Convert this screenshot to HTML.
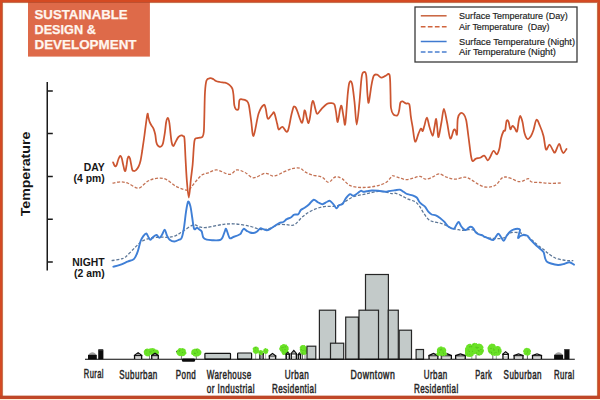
<!DOCTYPE html>
<html><head><meta charset="utf-8"><style>
html,body{margin:0;padding:0;background:#fff;}
svg{display:block;}
.lab{font-family:"Liberation Sans",sans-serif;font-size:12.2px;letter-spacing:0.7px;fill:#262626;stroke:#262626;stroke-width:0.5px;}
.leg{font-family:"Liberation Sans",sans-serif;font-size:9.4px;fill:#1e1e1e;stroke:#1e1e1e;stroke-width:0.18px;}
.bold{font-family:"Liberation Sans",sans-serif;font-weight:bold;fill:#161616;}
.badge{font-family:"Liberation Sans",sans-serif;font-weight:bold;font-size:13.3px;fill:#fff6ef;stroke:#fff6ef;stroke-width:0.25px;}
</style></head><body>
<svg width="600" height="400" viewBox="0 0 600 400">
<rect width="600" height="400" fill="#fff"/>
<!-- badge -->
<rect x="28" y="0" width="121.9" height="56.6" fill="#de6a49"/>
<text class="badge" x="34.5" y="18.7" textLength="93.2" lengthAdjust="spacingAndGlyphs">SUSTAINABLE</text>
<text class="badge" x="34.5" y="33.7" textLength="61.3" lengthAdjust="spacingAndGlyphs">DESIGN &amp;</text>
<text class="badge" x="34.5" y="48.8" textLength="102" lengthAdjust="spacingAndGlyphs">DEVELOPMENT</text>
<!-- legend -->
<rect x="415" y="7" width="162" height="55" fill="#fff" stroke="#3a3a3a" stroke-width="1.3"/>
<line x1="420.8" y1="15.8" x2="446.6" y2="15.8" stroke="#c9613c" stroke-width="1.5"/>
<line x1="420.8" y1="26.8" x2="446.6" y2="26.8" stroke="#d0643d" stroke-width="1.4" stroke-dasharray="4.7 2.33"/>
<line x1="420.8" y1="41.5" x2="446.6" y2="41.5" stroke="#3f7ad0" stroke-width="1.5"/>
<line x1="420.8" y1="52" x2="446.6" y2="52" stroke="#4a7fd0" stroke-width="1.4" stroke-dasharray="4.7 2.33"/>
<text class="leg" x="459.1" y="19.1" textLength="108.6" lengthAdjust="spacingAndGlyphs">Surface Temperature (Day)</text>
<text class="leg" x="459.1" y="29.7" textLength="90.5" lengthAdjust="spacingAndGlyphs">Air Temperature&#160; (Day)</text>
<text class="leg" x="459.1" y="44.5" textLength="115.9" lengthAdjust="spacingAndGlyphs">Surface Temperature (Night)</text>
<text class="leg" x="459.1" y="55" textLength="96.9" lengthAdjust="spacingAndGlyphs">Air Temperature (Night)</text>
<!-- axis -->
<path d="M47.25,82 V270.6 M47.25,91 H52.8 M47.25,133.6 H52.8 M47.25,176.5 H52.8 M47.25,219.3 H52.8 M47.25,262 H52.8" stroke="#1a1a1a" stroke-width="1.5" fill="none"/>
<text class="bold" font-size="13.7" transform="translate(29.9,216.3) rotate(-90)" x="0" y="0" textLength="84.6" lengthAdjust="spacingAndGlyphs">Temperature</text>
<text class="bold" font-size="10.4" x="104.7" y="170.7" text-anchor="end">DAY</text>
<text class="bold" font-size="10.4" x="104.7" y="181.8" text-anchor="end">(4 pm)</text>
<text class="bold" font-size="10.4" x="104.7" y="266" text-anchor="end">NIGHT</text>
<text class="bold" font-size="10.4" x="104.7" y="277.2" text-anchor="end">(2 am)</text>
<!-- lines -->
<path d="M112.5,183.2 C113.9,183.0 118.2,181.8 120.9,181.8 C123.6,181.9 125.6,182.4 128.5,183.5 C131.4,184.6 135.4,188.5 138.5,188.2 C141.6,187.9 144.5,183.3 146.9,181.8 C149.3,180.3 150.8,179.6 153.0,179.0 C155.2,178.4 158.0,178.0 160.3,178.1 C162.6,178.2 164.5,178.5 167.0,179.8 C169.5,181.1 172.6,184.4 175.4,186.0 C178.2,187.6 181.5,188.7 183.7,189.4 C185.9,190.1 187.1,190.6 188.5,190.0 C189.9,189.4 190.7,187.7 192.1,186.0 C193.5,184.3 195.3,181.9 197.0,180.0 C198.7,178.1 200.3,176.0 202.2,174.8 C204.1,173.6 206.0,173.6 208.4,172.8 C210.8,172.0 213.3,169.6 216.8,169.9 C220.3,170.2 226.0,174.4 229.3,174.4 C232.7,174.4 234.3,170.2 236.9,169.9 C239.5,169.6 242.2,171.2 245.0,172.5 C247.8,173.8 250.2,177.7 253.6,177.8 C257.0,177.9 261.9,173.6 265.3,173.3 C268.7,173.0 270.6,176.3 273.7,176.1 C276.8,175.9 280.7,173.2 283.8,171.9 C286.9,170.7 289.4,169.2 292.1,168.6 C294.8,168.0 297.9,167.6 300.0,168.2 C302.1,168.8 303.0,170.8 305.0,171.9 C307.0,173.0 309.0,174.1 311.8,174.9 C314.6,175.8 319.0,175.8 321.8,177.0 C324.6,178.2 326.3,182.3 328.5,182.3 C330.7,182.3 333.0,177.6 335.2,177.0 C337.4,176.4 339.4,177.2 341.9,178.6 C344.4,180.0 346.9,184.2 350.3,185.7 C353.7,187.2 357.8,187.4 362.0,187.5 C366.2,187.6 371.5,187.0 375.4,186.2 C379.3,185.4 382.9,184.3 385.5,182.8 C388.1,181.3 390.0,178.2 391.3,177.0 C392.6,175.8 391.9,175.6 393.3,175.8 C394.8,176.0 397.8,177.3 400.0,178.0 C402.2,178.7 404.5,179.7 406.7,179.7 C408.9,179.7 411.1,178.6 413.3,178.0 C415.5,177.4 417.9,176.1 420.0,176.3 C422.1,176.5 423.6,179.1 425.8,179.2 C428.0,179.3 431.1,177.6 433.3,176.7 C435.5,175.8 437.0,173.7 439.2,173.8 C441.4,173.9 444.1,176.3 446.7,177.2 C449.3,178.1 451.9,179.2 455.0,179.2 C458.1,179.2 462.2,177.1 465.0,177.2 C467.8,177.3 469.5,178.8 471.7,180.0 C473.9,181.2 476.1,183.0 478.3,184.2 C480.5,185.4 482.8,186.6 485.0,187.0 C487.2,187.4 489.8,187.2 491.7,186.7 C493.6,186.2 495.0,185.6 496.7,184.2 C498.4,182.8 500.2,179.5 501.7,178.3 C503.2,177.1 504.1,176.9 505.8,177.0 C507.5,177.1 509.5,177.9 511.7,178.7 C513.9,179.5 517.0,181.5 519.2,181.7 C521.4,181.9 523.5,180.5 525.0,180.0 C526.5,179.5 527.2,178.4 528.3,178.7 C529.4,179.0 529.8,181.4 531.7,182.0 C533.7,182.6 537.0,182.3 540.0,182.5 C543.0,182.7 546.5,183.2 550.0,183.3 C553.5,183.4 559.0,183.1 560.8,183.0" fill="none" stroke="#c47254" stroke-width="1.3" stroke-dasharray="3 1.7"/>
<path d="M111.6,260.7 C113.0,260.4 117.7,259.8 120.0,259.2 C122.3,258.6 123.1,258.8 125.6,256.9 C128.1,254.9 132.2,250.2 135.0,247.5 C137.8,244.8 139.7,242.6 142.5,241.0 C145.3,239.4 148.8,238.4 151.9,237.8 C155.0,237.2 158.5,237.3 161.3,237.2 C164.1,237.1 166.3,237.5 168.8,237.2 C171.3,236.9 173.8,236.4 176.3,235.3 C178.8,234.2 181.0,232.3 183.8,230.6 C186.6,228.9 190.5,225.6 193.2,225.0 C195.9,224.4 197.8,226.6 200.0,227.0 C202.2,227.4 203.9,227.8 206.7,227.5 C209.5,227.2 213.6,226.1 216.7,225.5 C219.8,224.9 222.2,224.5 225.0,224.2 C227.8,223.9 230.5,223.7 233.3,223.8 C236.1,223.9 238.9,224.3 241.7,224.7 C244.5,225.1 247.5,225.7 250.0,226.3 C252.5,226.9 254.5,227.7 256.7,228.3 C258.9,228.9 261.1,229.7 263.3,229.7 C265.5,229.7 267.5,229.1 270.0,228.3 C272.5,227.5 275.5,225.3 278.3,224.7 C281.1,224.1 284.5,224.6 286.7,224.7 C288.9,224.8 290.2,225.4 291.7,225.3 C293.2,225.2 293.8,225.3 295.5,224.0 C297.2,222.7 299.6,219.4 301.7,217.5 C303.8,215.6 306.1,213.9 308.3,212.5 C310.5,211.1 312.8,210.1 315.0,209.2 C317.2,208.3 319.5,207.5 321.7,207.0 C323.9,206.5 326.1,206.4 328.3,206.3 C330.5,206.2 333.1,206.5 335.0,206.3 C336.9,206.1 338.3,205.8 340.0,205.0 C341.7,204.2 343.1,202.9 345.0,201.7 C346.9,200.4 349.5,198.6 351.7,197.5 C353.9,196.4 356.1,195.9 358.3,195.3 C360.5,194.8 362.8,194.7 365.0,194.2 C367.2,193.7 369.5,193.0 371.7,192.5 C373.9,192.0 376.4,191.4 378.3,191.3 C380.2,191.2 381.6,191.5 383.3,191.7 C385.0,191.9 386.9,192.2 388.3,192.5 C389.7,192.8 390.4,193.6 391.7,193.7 C392.9,193.8 394.1,193.0 395.8,193.3 C397.5,193.7 399.6,194.8 401.7,195.8 C403.8,196.8 406.1,198.2 408.3,199.2 C410.5,200.2 413.2,200.6 415.0,201.7 C416.8,202.8 417.8,204.0 419.2,205.8 C420.6,207.6 421.8,210.3 423.3,212.5 C424.8,214.7 426.6,217.7 428.3,219.2 C430.0,220.7 431.4,221.1 433.3,221.7 C435.2,222.3 438.1,222.4 440.0,223.0 C441.9,223.6 443.1,224.2 445.0,225.0 C446.9,225.8 449.5,227.2 451.7,228.0 C453.9,228.8 456.4,229.3 458.3,229.7 C460.2,230.1 461.6,230.3 463.3,230.3 C465.0,230.3 466.6,229.8 468.3,229.7 C470.0,229.6 471.9,229.5 473.3,230.0 C474.7,230.5 475.4,231.7 476.7,232.5 C477.9,233.3 479.1,234.2 480.8,235.0 C482.5,235.8 484.3,236.9 486.7,237.5 C489.1,238.1 492.2,238.4 495.0,238.5 C497.8,238.6 500.8,238.9 503.3,238.0 C505.8,237.1 507.8,233.9 510.0,233.0 C512.2,232.1 514.8,232.4 516.7,232.5 C518.7,232.6 519.5,232.3 521.7,233.3 C523.9,234.3 527.5,236.5 530.0,238.3 C532.5,240.1 534.5,242.4 536.7,244.2 C538.9,246.0 541.4,247.7 543.3,249.2 C545.2,250.7 546.0,251.8 548.0,253.3 C550.0,254.8 552.8,256.9 555.3,258.0 C557.8,259.1 561.0,259.6 563.3,260.0 C565.6,260.4 567.6,260.6 569.3,260.7 C571.0,260.8 572.6,260.7 573.3,260.7" fill="none" stroke="#5d7797" stroke-width="1.3" stroke-dasharray="3 1.7"/>
<path d="M113.1,162.3 C113.3,162.8 114.1,164.8 114.5,165.5 C114.9,166.2 115.2,166.6 115.6,166.4 C116.0,166.2 116.3,165.8 116.8,164.6 C117.3,163.4 117.9,160.4 118.5,159.0 C119.1,157.6 119.7,156.1 120.2,155.9 C120.7,155.7 121.2,156.7 121.7,158.0 C122.2,159.3 122.5,162.0 123.0,164.0 C123.5,166.0 124.0,168.9 124.4,170.0 C124.8,171.1 125.1,171.4 125.5,170.6 C125.9,169.8 126.2,167.0 126.6,165.0 C126.9,163.0 127.2,160.0 127.6,158.6 C127.9,157.2 128.3,156.3 128.7,156.3 C129.1,156.3 129.6,157.3 130.0,158.6 C130.4,159.9 130.7,162.1 131.1,164.0 C131.5,165.9 131.8,168.6 132.3,169.8 C132.8,171.0 133.3,170.9 133.9,171.0 C134.5,171.1 135.2,170.9 136.0,170.2 C136.8,169.4 137.8,168.1 138.6,166.5 C139.4,164.9 140.0,163.1 140.6,160.5 C141.2,157.9 141.5,155.2 142.2,151.0 C142.8,146.8 143.7,141.1 144.5,135.0 C145.3,128.9 146.7,117.5 147.3,114.6 C148.0,111.7 148.0,116.3 148.4,117.5 C148.8,118.7 149.1,120.6 149.6,121.9 C150.1,123.2 150.8,124.4 151.5,125.5 C152.2,126.6 152.9,127.1 153.5,128.6 C154.1,130.1 154.7,132.1 155.2,134.3 C155.7,136.5 155.9,140.2 156.3,142.0 C156.7,143.8 157.1,144.5 157.6,145.3 C158.1,146.1 158.6,146.4 159.2,146.6 C159.8,146.8 160.4,146.9 160.9,146.6 C161.4,146.3 162.0,145.6 162.4,144.8 C162.8,144.0 162.9,143.9 163.3,142.0 C163.7,140.1 164.3,136.4 164.8,133.2 C165.3,129.9 165.7,125.0 166.1,122.5 C166.5,120.0 167.1,118.4 167.5,118.0 C167.9,117.6 168.5,118.9 168.8,120.0 C169.2,121.1 169.3,122.3 169.6,124.5 C169.9,126.7 170.2,130.3 170.5,133.2 C170.8,136.1 171.2,139.9 171.6,142.0 C172.0,144.1 172.3,144.9 172.7,145.5 C173.1,146.1 173.3,146.2 173.8,145.6 C174.3,145.0 174.8,143.6 175.5,142.2 C176.2,140.8 177.4,138.2 178.3,137.1 C179.2,136.0 180.4,135.5 181.2,135.4 C182.0,135.3 182.8,135.7 183.3,136.3 C183.9,136.9 184.1,134.9 184.5,138.8 C184.9,142.8 185.2,153.1 185.6,160.0 C186.0,166.9 186.3,173.8 186.8,180.0 C187.3,186.2 188.1,197.5 188.8,197.5 C189.5,197.5 190.2,185.4 190.8,180.0 C191.4,174.6 192.1,170.0 192.6,165.0 C193.1,160.0 193.3,154.1 193.6,150.0 C193.9,145.9 194.1,142.2 194.6,140.2 C195.1,138.2 195.4,138.6 196.3,138.2 C197.2,137.8 199.0,137.8 200.0,137.6 C201.0,137.4 201.9,137.7 202.5,136.8 C203.1,135.9 203.5,135.1 203.8,132.0 C204.1,128.9 204.1,124.7 204.3,118.0 C204.5,111.3 204.6,98.2 205.0,92.0 C205.4,85.8 205.7,82.8 206.5,80.5 C207.3,78.2 208.8,78.4 210.0,78.2 C211.2,78.0 212.5,78.7 213.5,79.2 C214.5,79.7 214.9,80.5 216.0,81.0 C217.1,81.5 218.5,81.7 220.0,82.0 C221.5,82.3 223.6,82.3 225.0,82.7 C226.4,83.1 227.5,83.6 228.5,84.2 C229.5,84.8 230.3,85.7 231.0,86.5 C231.7,87.3 232.1,87.6 232.5,89.0 C232.9,90.4 233.2,92.3 233.5,95.0 C233.8,97.7 233.9,102.8 234.3,105.2 C234.7,107.6 235.3,108.8 236.0,109.4 C236.7,110.0 237.9,110.4 238.5,108.9 C239.1,107.4 238.8,101.8 239.4,100.2 C240.0,98.6 240.7,99.2 241.9,99.3 C243.2,99.4 245.7,100.0 246.9,101.0 C248.1,102.0 248.2,102.0 248.9,105.2 C249.6,108.4 250.3,115.2 251.1,120.3 C251.9,125.4 252.3,137.0 253.6,135.9 C254.8,134.8 256.9,118.8 258.6,113.6 C260.3,108.4 262.5,105.7 263.7,104.9 C264.9,104.1 265.0,106.3 265.7,108.6 C266.4,110.9 266.8,117.6 267.8,118.6 C268.9,119.6 270.9,115.4 272.0,114.4 C273.1,113.4 273.3,111.2 274.2,112.7 C275.1,114.2 276.4,120.8 277.1,123.6 C277.9,126.4 277.8,129.0 278.7,129.5 C279.6,130.0 281.0,126.5 282.5,126.8 C284.0,127.1 286.0,133.4 287.5,131.5 C289.0,129.6 290.3,119.3 291.3,115.3 C292.3,111.3 292.8,109.0 293.3,107.5 C293.9,106.0 294.2,106.5 294.6,106.6 C295.1,106.7 295.5,107.0 296.0,108.0 C296.5,109.0 297.1,110.5 297.8,112.5 C298.5,114.5 299.6,118.0 300.3,119.8 C301.0,121.5 301.4,123.1 301.9,123.0 C302.4,122.9 302.8,121.0 303.2,119.0 C303.6,117.0 304.0,112.0 304.4,110.8 C304.8,109.6 305.1,110.8 305.5,112.0 C305.9,113.2 306.3,116.2 306.8,118.0 C307.3,119.8 307.9,123.4 308.5,123.1 C309.1,122.8 309.7,119.0 310.2,116.0 C310.7,113.0 311.2,107.5 311.6,105.0 C312.0,102.5 312.3,101.2 312.7,100.9 C313.1,100.6 313.4,101.6 313.9,103.0 C314.4,104.4 314.9,107.7 315.5,109.5 C316.1,111.3 316.2,114.1 317.3,113.9 C318.4,113.8 320.2,110.3 321.8,108.6 C323.4,106.9 325.3,104.8 326.8,103.9 C328.3,103.0 329.7,103.1 331.0,103.2 C332.3,103.3 333.6,103.0 334.4,104.4 C335.2,105.9 335.4,109.0 336.0,111.9 C336.6,114.8 337.0,122.5 337.7,122.0 C338.4,121.5 339.5,111.2 340.2,108.6 C340.9,105.9 341.0,104.7 341.6,106.1 C342.2,107.5 343.0,114.1 343.6,117.0 C344.2,119.9 344.6,127.6 345.3,123.7 C346.0,119.8 347.1,100.3 347.8,93.5 C348.5,86.7 348.7,84.3 349.4,82.6 C350.1,80.9 351.1,80.3 352.0,83.5 C352.9,86.7 353.7,95.1 354.5,101.9 C355.3,108.7 355.9,124.5 356.7,124.5 C357.5,124.5 358.7,109.9 359.5,101.9 C360.3,94.0 360.9,81.8 361.7,76.8 C362.4,71.8 363.2,72.4 364.0,72.1 C364.8,71.8 365.6,71.5 366.2,75.1 C366.8,78.7 367.0,88.9 367.4,93.5 C367.8,98.1 368.1,103.8 368.7,102.7 C369.3,101.6 370.4,91.3 371.2,86.8 C372.0,82.3 372.7,77.9 373.7,75.9 C374.7,73.9 375.8,74.4 377.1,74.7 C378.4,75.0 379.9,77.4 381.3,77.6 C382.7,77.8 384.1,76.3 385.5,75.9 C386.9,75.5 388.8,72.2 389.6,75.1 C390.4,78.0 390.3,88.0 390.5,93.5 C390.7,99.0 390.5,104.5 391.0,108.0 C391.5,111.5 392.3,113.1 393.4,114.3 C394.5,115.5 396.5,115.9 397.5,115.2 C398.5,114.5 398.7,112.3 399.2,110.2 C399.7,108.1 399.8,104.1 400.4,102.6 C401.0,101.1 401.7,101.2 402.6,101.4 C403.5,101.6 404.8,103.0 405.9,103.5 C407.0,104.0 408.5,102.1 409.3,104.3 C410.1,106.5 410.3,113.1 410.9,116.9 C411.4,120.7 411.9,122.8 412.6,126.9 C413.3,131.0 414.1,140.5 415.1,141.6 C416.1,142.7 417.5,135.8 418.5,133.6 C419.5,131.4 420.3,129.0 421.0,128.6 C421.7,128.2 422.1,131.5 422.7,131.1 C423.2,130.7 423.6,128.3 424.3,126.1 C425.0,123.9 426.0,117.5 426.9,117.7 C427.8,117.9 428.5,124.0 429.5,127.0 C430.5,130.0 431.9,135.8 432.7,135.8 C433.5,135.8 433.9,129.8 434.5,127.0 C435.1,124.2 435.6,118.7 436.1,118.9 C436.6,119.1 436.9,125.0 437.3,128.0 C437.7,131.0 437.9,138.0 438.6,137.0 C439.3,136.0 440.6,126.7 441.5,122.0 C442.4,117.3 443.0,108.8 443.9,108.8 C444.8,108.8 445.9,117.0 447.0,122.0 C448.1,127.0 449.2,137.3 450.3,138.6 C451.4,139.9 452.8,131.2 453.7,129.9 C454.6,128.6 454.9,129.8 455.5,130.5 C456.1,131.2 456.6,136.4 457.0,134.4 C457.4,132.4 457.2,122.0 457.8,118.5 C458.4,115.0 459.4,113.9 460.4,113.2 C461.4,112.5 462.7,113.1 463.7,114.3 C464.7,115.5 465.4,116.4 466.2,120.2 C467.0,124.0 467.7,131.2 468.5,137.0 C469.3,142.8 470.2,151.3 470.9,155.3 C471.6,159.3 471.8,160.6 472.6,161.1 C473.4,161.6 474.6,159.1 475.9,158.6 C477.1,158.1 478.7,158.3 480.1,157.8 C481.5,157.3 483.1,155.2 484.3,155.6 C485.6,156.0 486.6,160.1 487.6,160.3 C488.6,160.5 489.2,158.6 490.2,157.0 C491.2,155.4 492.4,151.2 493.5,150.8 C494.6,150.4 495.9,154.8 496.9,154.4 C497.9,154.0 498.7,151.2 499.4,148.6 C500.1,145.9 500.3,141.4 501.0,138.5 C501.7,135.6 502.9,132.4 503.6,131.0 C504.3,129.6 504.7,131.9 505.2,130.2 C505.7,128.5 506.0,122.3 506.6,120.9 C507.2,119.5 508.0,120.4 508.6,121.8 C509.2,123.2 509.7,128.6 510.3,129.3 C510.9,130.0 511.6,126.3 512.3,126.0 C513.0,125.7 513.6,126.7 514.4,127.6 C515.2,128.5 516.3,132.5 517.0,131.5 C517.7,130.5 518.1,124.4 518.6,121.8 C519.1,119.2 519.6,115.9 520.3,115.9 C520.9,115.9 521.8,119.2 522.5,122.0 C523.2,124.8 523.7,130.2 524.5,133.0 C525.3,135.8 526.4,138.5 527.5,139.0 C528.6,139.5 530.0,137.5 531.0,136.0 C532.0,134.5 532.6,132.7 533.5,130.0 C534.4,127.3 535.4,120.5 536.5,119.8 C537.6,119.1 538.8,123.3 540.0,126.0 C541.2,128.7 542.5,132.1 543.5,136.0 C544.5,139.9 545.0,148.1 546.0,149.5 C547.0,150.9 548.4,144.5 549.5,144.5 C550.6,144.5 551.6,148.2 552.5,149.5 C553.4,150.8 553.9,153.4 555.0,152.5 C556.1,151.6 557.9,144.4 559.0,144.0 C560.1,143.6 560.8,148.5 561.5,150.0 C562.2,151.5 562.7,153.2 563.5,153.0 C564.3,152.8 566.0,149.7 566.5,149.0" fill="none" stroke="#cc5530" stroke-width="1.75" stroke-linejoin="round" stroke-linecap="round"/>
<path d="M113.4,266.7 C114.5,266.4 117.7,265.6 120.0,264.8 C122.3,264.0 125.2,262.6 127.5,261.6 C129.8,260.6 132.4,260.5 134.1,258.8 C135.8,257.1 136.7,254.3 137.8,251.3 C138.9,248.3 139.7,243.6 140.6,241.0 C141.5,238.4 142.6,237.2 143.5,235.9 C144.4,234.7 145.5,233.3 146.3,233.5 C147.1,233.7 147.8,236.2 148.5,237.2 C149.2,238.2 149.6,239.8 150.4,239.7 C151.2,239.6 152.4,237.5 153.4,236.7 C154.4,235.9 155.6,234.8 156.6,235.0 C157.6,235.2 158.5,237.9 159.4,237.8 C160.3,237.7 161.3,235.8 162.2,234.4 C163.1,233.1 163.9,229.5 164.7,229.7 C165.5,229.8 166.1,233.6 166.9,235.3 C167.7,237.0 168.4,238.7 169.7,239.7 C170.9,240.7 172.8,241.5 174.4,241.5 C176.0,241.5 177.9,240.2 179.1,239.7 C180.3,239.1 180.7,240.0 181.5,238.2 C182.3,236.4 183.1,233.2 183.8,228.8 C184.6,224.4 185.3,216.4 186.0,211.9 C186.7,207.4 187.4,202.5 188.1,201.6 C188.8,200.7 189.7,203.7 190.4,206.3 C191.1,209.0 191.6,213.8 192.2,217.5 C192.8,221.2 193.3,227.1 194.1,228.8 C194.9,230.5 196.0,227.7 196.9,227.8 C197.8,228.0 198.9,229.1 199.7,229.7 C200.5,230.3 201.1,230.2 201.7,231.5 C202.3,232.8 202.5,236.1 203.3,237.5 C204.1,238.9 205.0,239.2 206.7,239.7 C208.4,240.2 211.1,240.2 213.3,240.3 C215.5,240.4 218.5,240.5 220.0,240.0 C221.5,239.5 221.7,239.0 222.5,237.5 C223.3,236.0 224.4,232.2 225.0,230.8 C225.6,229.4 225.5,228.0 226.3,229.2 C227.1,230.4 228.5,236.7 229.7,238.0 C230.9,239.3 231.6,237.6 233.3,237.0 C235.0,236.4 238.6,235.1 240.0,234.2 C241.4,233.3 241.1,232.6 241.7,231.7 C242.3,230.8 242.9,229.0 243.7,228.8 C244.5,228.7 245.6,230.2 246.7,230.8 C247.8,231.4 248.9,232.1 250.0,232.5 C251.1,232.9 252.2,233.1 253.3,233.0 C254.4,232.9 255.5,232.5 256.7,231.7 C257.9,230.9 259.2,228.7 260.3,228.3 C261.4,227.9 262.2,228.9 263.3,229.2 C264.4,229.5 265.6,230.3 266.7,230.3 C267.8,230.3 268.6,229.9 270.0,229.2 C271.4,228.4 273.5,226.8 275.0,225.8 C276.5,224.8 277.8,223.6 279.2,223.0 C280.6,222.4 282.1,222.6 283.3,222.0 C284.6,221.4 285.4,219.9 286.7,219.2 C287.9,218.4 289.6,218.2 290.8,217.5 C292.1,216.8 292.9,215.2 294.2,214.7 C295.4,214.1 297.2,215.0 298.3,214.2 C299.4,213.4 299.7,211.1 300.8,210.0 C301.9,208.9 303.6,208.5 305.0,207.5 C306.4,206.5 307.8,205.5 309.2,204.2 C310.6,202.9 312.2,200.0 313.7,199.7 C315.2,199.4 316.8,201.8 318.3,202.5 C319.8,203.2 321.1,204.3 322.5,204.2 C323.9,204.1 325.4,202.6 326.7,202.0 C327.9,201.4 328.9,200.4 330.0,200.8 C331.1,201.2 332.2,202.9 333.3,204.2 C334.4,205.4 335.7,208.2 336.7,208.3 C337.7,208.4 338.2,205.7 339.2,205.0 C340.2,204.3 341.4,205.3 342.5,204.2 C343.6,203.1 344.6,200.0 345.8,198.3 C347.1,196.6 348.8,194.6 350.0,194.2 C351.2,193.8 352.1,196.0 353.3,195.8 C354.6,195.7 356.2,194.1 357.5,193.3 C358.8,192.5 359.8,191.1 360.8,190.8 C361.8,190.5 362.3,191.6 363.3,191.7 C364.3,191.8 365.3,191.5 366.7,191.3 C368.1,191.1 369.8,190.6 371.7,190.5 C373.6,190.4 376.1,190.6 378.3,190.8 C380.5,191.0 383.3,191.6 385.0,191.7 C386.7,191.8 386.6,191.5 388.3,191.3 C390.0,191.1 393.1,190.6 395.0,190.3 C396.9,190.0 398.6,189.5 400.0,189.7 C401.4,189.9 402.1,190.9 403.3,191.7 C404.6,192.4 406.0,193.6 407.5,194.2 C409.0,194.8 411.0,194.8 412.5,195.3 C414.0,195.9 415.6,196.4 416.7,197.5 C417.8,198.6 418.4,200.6 419.2,201.7 C420.0,202.8 420.7,203.4 421.7,204.2 C422.7,205.0 423.9,205.4 425.0,206.7 C426.1,207.9 427.2,210.4 428.3,211.7 C429.4,213.0 430.4,213.9 431.7,214.5 C432.9,215.1 434.4,214.7 435.8,215.3 C437.2,215.9 438.6,216.9 440.0,218.0 C441.4,219.1 442.9,220.4 444.2,221.7 C445.4,223.0 446.4,224.8 447.5,225.8 C448.6,226.9 449.7,227.5 450.8,228.0 C451.9,228.5 453.3,229.2 454.2,228.7 C455.1,228.2 455.6,226.1 456.3,225.0 C457.1,223.9 457.9,221.8 458.7,222.0 C459.5,222.2 460.2,224.9 461.0,226.0 C461.8,227.1 462.5,228.0 463.3,228.7 C464.1,229.4 465.0,230.1 465.8,230.0 C466.6,229.9 467.5,228.6 468.3,228.0 C469.1,227.4 470.0,226.6 470.8,226.7 C471.6,226.8 472.5,227.3 473.3,228.3 C474.1,229.3 475.0,231.5 475.8,232.5 C476.6,233.5 477.3,233.8 478.3,234.2 C479.3,234.6 480.7,234.6 481.7,235.0 C482.7,235.4 483.1,236.1 484.2,236.7 C485.3,237.2 486.8,237.8 488.3,238.3 C489.8,238.9 492.1,240.3 493.3,240.0 C494.6,239.7 495.0,237.8 495.8,236.7 C496.6,235.6 497.5,233.7 498.3,233.7 C499.1,233.7 499.9,235.5 500.8,236.7 C501.7,237.9 502.7,241.0 503.7,240.8 C504.7,240.7 505.6,237.3 506.7,235.8 C507.8,234.3 508.9,232.7 510.0,231.7 C511.1,230.7 512.0,230.2 513.3,229.7 C514.5,229.2 516.4,228.7 517.5,228.7 C518.6,228.7 519.8,228.8 520.0,229.7 C520.2,230.6 519.3,232.6 519.0,234.0 C518.7,235.4 517.8,237.7 518.0,238.0 C518.2,238.3 519.6,236.5 520.5,236.0 C521.4,235.5 522.3,235.0 523.5,235.0 C524.7,235.0 526.4,235.1 527.5,235.8 C528.6,236.5 528.8,237.8 530.0,239.2 C531.2,240.6 533.3,242.6 535.0,244.2 C536.7,245.8 538.6,247.5 540.0,248.8 C541.4,250.1 542.6,250.4 543.5,252.0 C544.4,253.6 544.6,256.9 545.2,258.5 C545.8,260.1 546.0,260.9 547.0,261.7 C548.0,262.5 549.2,262.9 551.0,263.5 C552.8,264.1 555.8,264.9 558.0,265.0 C560.2,265.1 562.1,264.5 564.0,264.0 C565.9,263.5 567.6,262.1 569.3,262.2 C571.0,262.3 573.2,264.3 574.0,264.7" fill="none" stroke="#3f7fd6" stroke-width="1.9" stroke-linejoin="round" stroke-linecap="round"/>
<!-- scene -->
<path d="M88.60,355.20 C89.80,351.40 95.00,351.40 96.20,355.20Z" fill="#a2a2a2"/><rect x="88.00" y="354.80" width="8.80" height="4.50" fill="#0d0d0d"/><rect x="98.20" y="349.30" width="5.20" height="10.00" rx="0.6" fill="#0d0d0d"/><rect x="98.60" y="349.50" width="4.40" height="0.9" fill="#555"/><path d="M134.58,359.0 V355.30 L138.10,352.78 L141.62,355.30 V359.0" fill="#fff" stroke="#0d0d0d" stroke-width="1.35" stroke-linejoin="miter"/><line x1="133.90" y1="355.60" x2="142.30" y2="355.60" stroke="#0d0d0d" stroke-width="1.1"/><path d="M136.34,354.95 L138.10,353.60 L139.86,354.95Z" fill="#9a9a9a"/><rect x="135.10" y="356.60" width="6.00" height="0.8" fill="#9a9a9a"/><line x1="149.50" y1="355.00" x2="149.50" y2="359.0" stroke="#777" stroke-width="0.9"/><ellipse cx="147.60" cy="352.40" rx="3.12" ry="3.20" fill="#6be227"/><circle cx="150.36" cy="352.46" r="1.15" fill="#6be227"/><circle cx="149.96" cy="353.39" r="1.39" fill="#6be227"/><circle cx="148.41" cy="354.83" r="1.48" fill="#6be227"/><circle cx="147.95" cy="354.94" r="1.48" fill="#6be227"/><circle cx="146.69" cy="354.91" r="1.35" fill="#6be227"/><circle cx="145.44" cy="353.74" r="1.43" fill="#6be227"/><circle cx="144.86" cy="352.15" r="1.16" fill="#6be227"/><circle cx="145.19" cy="351.24" r="1.27" fill="#6be227"/><circle cx="145.84" cy="350.17" r="1.14" fill="#6be227"/><circle cx="147.10" cy="349.73" r="1.31" fill="#6be227"/><circle cx="148.92" cy="349.91" r="1.17" fill="#6be227"/><circle cx="149.78" cy="350.56" r="1.10" fill="#6be227"/><ellipse cx="152.00" cy="351.50" rx="3.61" ry="2.79" fill="#6be227"/><circle cx="155.47" cy="351.28" r="1.02" fill="#6be227"/><circle cx="154.97" cy="352.52" r="1.21" fill="#6be227"/><circle cx="154.15" cy="353.46" r="1.01" fill="#6be227"/><circle cx="151.96" cy="353.86" r="1.15" fill="#6be227"/><circle cx="149.84" cy="353.42" r="1.05" fill="#6be227"/><circle cx="148.84" cy="352.28" r="1.16" fill="#6be227"/><circle cx="148.54" cy="351.28" r="1.03" fill="#6be227"/><circle cx="148.93" cy="350.42" r="1.08" fill="#6be227"/><circle cx="150.22" cy="349.39" r="1.05" fill="#6be227"/><circle cx="152.14" cy="349.12" r="1.13" fill="#6be227"/><circle cx="153.68" cy="349.26" r="0.96" fill="#6be227"/><circle cx="154.45" cy="350.08" r="1.33" fill="#6be227"/><ellipse cx="156.00" cy="352.50" rx="2.38" ry="2.46" fill="#6be227"/><circle cx="158.07" cy="352.45" r="0.92" fill="#6be227"/><circle cx="157.72" cy="353.64" r="0.97" fill="#6be227"/><circle cx="156.44" cy="354.71" r="0.82" fill="#6be227"/><circle cx="155.21" cy="354.59" r="0.84" fill="#6be227"/><circle cx="154.06" cy="353.31" r="0.90" fill="#6be227"/><circle cx="154.09" cy="351.80" r="0.97" fill="#6be227"/><circle cx="155.06" cy="350.61" r="0.97" fill="#6be227"/><circle cx="156.74" cy="350.38" r="0.83" fill="#6be227"/><circle cx="157.57" cy="351.37" r="1.11" fill="#6be227"/><circle cx="146.25" cy="353.36" r="0.44" fill="#3d9a17" opacity="0.5"/><circle cx="146.06" cy="350.18" r="0.56" fill="#3d9a17" opacity="0.5"/><circle cx="151.18" cy="351.20" r="0.49" fill="#3d9a17" opacity="0.5"/><circle cx="153.44" cy="353.53" r="0.46" fill="#3d9a17" opacity="0.5"/><circle cx="156.25" cy="354.59" r="0.56" fill="#3d9a17" opacity="0.5"/><circle cx="157.92" cy="352.14" r="0.46" fill="#3d9a17" opacity="0.5"/><circle cx="150.00" cy="352.00" r="0.70" fill="#3d9a17" opacity="0.55"/><circle cx="153.50" cy="350.50" r="0.60" fill="#3d9a17" opacity="0.55"/><circle cx="155.50" cy="353.50" r="0.60" fill="#3d9a17" opacity="0.55"/><path d="M151.78,359.0 V355.40 L155.00,353.28 L158.22,355.40 V359.0" fill="#fff" stroke="#0d0d0d" stroke-width="1.35" stroke-linejoin="miter"/><line x1="151.10" y1="355.70" x2="158.90" y2="355.70" stroke="#0d0d0d" stroke-width="1.1"/><path d="M153.46,355.05 L155.00,354.10 L156.54,355.05Z" fill="#9a9a9a"/><rect x="152.30" y="356.60" width="5.40" height="0.8" fill="#9a9a9a"/><rect x="181.9" y="358.6" width="13.2" height="3.1" rx="1.3" fill="#0d0d0d"/><line x1="181.40" y1="355.00" x2="181.40" y2="359.0" stroke="#666" stroke-width="0.9"/><ellipse cx="181.40" cy="352.20" rx="4.02" ry="3.36" fill="#6be227"/><circle cx="184.87" cy="352.65" r="1.53" fill="#6be227"/><circle cx="184.77" cy="353.30" r="1.39" fill="#6be227"/><circle cx="183.97" cy="354.42" r="1.21" fill="#6be227"/><circle cx="182.68" cy="354.66" r="1.61" fill="#6be227"/><circle cx="179.94" cy="354.78" r="1.42" fill="#6be227"/><circle cx="178.96" cy="354.21" r="1.49" fill="#6be227"/><circle cx="177.83" cy="353.09" r="1.29" fill="#6be227"/><circle cx="177.82" cy="352.32" r="1.46" fill="#6be227"/><circle cx="178.33" cy="351.02" r="1.63" fill="#6be227"/><circle cx="179.68" cy="349.74" r="1.45" fill="#6be227"/><circle cx="180.04" cy="349.51" r="1.35" fill="#6be227"/><circle cx="182.30" cy="349.54" r="1.50" fill="#6be227"/><circle cx="183.62" cy="349.79" r="1.25" fill="#6be227"/><circle cx="184.26" cy="350.55" r="1.48" fill="#6be227"/><circle cx="184.41" cy="351.96" r="0.45" fill="#3d9a17" opacity="0.5"/><circle cx="179.90" cy="350.54" r="0.51" fill="#3d9a17" opacity="0.5"/><circle cx="179.05" cy="351.13" r="0.44" fill="#3d9a17" opacity="0.5"/><circle cx="182.86" cy="349.66" r="0.42" fill="#3d9a17" opacity="0.5"/><circle cx="182.50" cy="352.50" r="0.60" fill="#3d9a17" opacity="0.55"/><circle cx="179.50" cy="351.00" r="0.50" fill="#3d9a17" opacity="0.55"/><line x1="196.30" y1="355.00" x2="196.30" y2="359.0" stroke="#666" stroke-width="0.9"/><ellipse cx="196.30" cy="352.50" rx="4.10" ry="3.36" fill="#6be227"/><circle cx="200.19" cy="352.53" r="1.23" fill="#6be227"/><circle cx="199.93" cy="353.55" r="1.25" fill="#6be227"/><circle cx="199.04" cy="354.35" r="1.46" fill="#6be227"/><circle cx="197.76" cy="355.29" r="1.21" fill="#6be227"/><circle cx="195.46" cy="355.21" r="1.46" fill="#6be227"/><circle cx="194.11" cy="355.03" r="1.17" fill="#6be227"/><circle cx="192.93" cy="353.65" r="1.45" fill="#6be227"/><circle cx="192.80" cy="352.94" r="1.62" fill="#6be227"/><circle cx="192.75" cy="351.39" r="1.29" fill="#6be227"/><circle cx="193.35" cy="350.49" r="1.18" fill="#6be227"/><circle cx="195.04" cy="349.93" r="1.51" fill="#6be227"/><circle cx="197.21" cy="349.85" r="1.52" fill="#6be227"/><circle cx="198.38" cy="350.37" r="1.63" fill="#6be227"/><circle cx="199.69" cy="351.68" r="1.60" fill="#6be227"/><circle cx="196.50" cy="349.68" r="0.59" fill="#3d9a17" opacity="0.5"/><circle cx="196.64" cy="350.62" r="0.37" fill="#3d9a17" opacity="0.5"/><circle cx="194.62" cy="353.18" r="0.56" fill="#3d9a17" opacity="0.5"/><circle cx="195.28" cy="353.63" r="0.38" fill="#3d9a17" opacity="0.5"/><circle cx="197.50" cy="352.00" r="0.60" fill="#3d9a17" opacity="0.55"/><circle cx="195.00" cy="353.50" r="0.50" fill="#3d9a17" opacity="0.55"/><circle cx="176.5" cy="351.3" r="0.55" fill="#333"/><rect x="204.9" y="353.3" width="25.6" height="5.9" rx="0.7" fill="#c3cac9" stroke="#111" stroke-width="1.2"/><rect x="237.6" y="353" width="14" height="6.2" rx="0.7" fill="#c3cac9" stroke="#111" stroke-width="1.2"/><line x1="255.60" y1="353.00" x2="255.60" y2="359.0" stroke="#999" stroke-width="0.9"/><ellipse cx="255.90" cy="350.10" rx="2.71" ry="2.95" fill="#6be227"/><circle cx="258.21" cy="350.61" r="1.05" fill="#6be227"/><circle cx="257.59" cy="351.59" r="1.29" fill="#6be227"/><circle cx="257.18" cy="352.43" r="0.96" fill="#6be227"/><circle cx="255.91" cy="352.64" r="1.18" fill="#6be227"/><circle cx="254.77" cy="352.17" r="1.29" fill="#6be227"/><circle cx="253.79" cy="351.32" r="1.03" fill="#6be227"/><circle cx="253.92" cy="349.10" r="1.26" fill="#6be227"/><circle cx="254.21" cy="348.59" r="1.28" fill="#6be227"/><circle cx="255.17" cy="347.50" r="0.97" fill="#6be227"/><circle cx="256.50" cy="347.51" r="1.03" fill="#6be227"/><circle cx="257.44" cy="348.44" r="1.31" fill="#6be227"/><circle cx="255.47" cy="347.59" r="0.54" fill="#3d9a17" opacity="0.5"/><circle cx="255.12" cy="350.79" r="0.43" fill="#3d9a17" opacity="0.5"/><path d="M259.88,359.0 V353.60 L261.50,351.98 L263.12,353.60 V359.0" fill="#fff" stroke="#0d0d0d" stroke-width="1.35" stroke-linejoin="miter"/><line x1="259.20" y1="353.90" x2="263.80" y2="353.90" stroke="#0d0d0d" stroke-width="1.1"/><path d="M260.24,353.25 L261.50,352.80 L262.76,353.25Z" fill="#9a9a9a"/><rect x="260.40" y="356.60" width="2.20" height="0.8" fill="#9a9a9a"/><line x1="261.00" y1="354.00" x2="261.00" y2="359.0" stroke="#556" stroke-width="0.9"/><ellipse cx="260.80" cy="352.60" rx="2.05" ry="2.13" fill="#6be227"/><circle cx="262.39" cy="352.83" r="1.00" fill="#6be227"/><circle cx="261.86" cy="354.16" r="0.76" fill="#6be227"/><circle cx="260.85" cy="354.33" r="0.96" fill="#6be227"/><circle cx="259.49" cy="353.69" r="0.93" fill="#6be227"/><circle cx="258.95" cy="352.46" r="0.72" fill="#6be227"/><circle cx="259.54" cy="351.44" r="0.92" fill="#6be227"/><circle cx="260.78" cy="350.83" r="0.92" fill="#6be227"/><circle cx="261.97" cy="351.44" r="1.00" fill="#6be227"/><circle cx="259.88" cy="352.73" r="0.56" fill="#3d9a17" opacity="0.5"/><circle cx="260.00" cy="352.21" r="0.35" fill="#3d9a17" opacity="0.5"/><circle cx="261.00" cy="353.00" r="0.50" fill="#3d9a17" opacity="0.55"/><line x1="265.60" y1="353.50" x2="265.60" y2="359.0" stroke="#aaa" stroke-width="0.9"/><ellipse cx="265.80" cy="351.00" rx="2.21" ry="2.38" fill="#6be227"/><circle cx="267.64" cy="350.63" r="0.92" fill="#6be227"/><circle cx="266.83" cy="352.56" r="1.07" fill="#6be227"/><circle cx="265.68" cy="353.03" r="0.97" fill="#6be227"/><circle cx="264.48" cy="352.41" r="0.97" fill="#6be227"/><circle cx="263.88" cy="351.14" r="0.86" fill="#6be227"/><circle cx="264.44" cy="349.71" r="1.02" fill="#6be227"/><circle cx="265.45" cy="348.85" r="0.79" fill="#6be227"/><circle cx="267.18" cy="349.70" r="0.99" fill="#6be227"/><circle cx="264.26" cy="350.47" r="0.37" fill="#3d9a17" opacity="0.5"/><circle cx="266.07" cy="351.78" r="0.44" fill="#3d9a17" opacity="0.5"/><path d="M269.38,359.0 V355.80 L272.50,353.57 L275.62,355.80 V359.0" fill="#fff" stroke="#0d0d0d" stroke-width="1.35" stroke-linejoin="miter"/><line x1="268.70" y1="356.10" x2="276.30" y2="356.10" stroke="#0d0d0d" stroke-width="1.1"/><path d="M270.90,355.45 L272.50,354.40 L274.10,355.45Z" fill="#9a9a9a"/><rect x="269.90" y="356.60" width="5.20" height="0.8" fill="#9a9a9a"/><line x1="286.00" y1="354.00" x2="286.00" y2="359.0" stroke="#555" stroke-width="0.9"/><ellipse cx="284.00" cy="348.40" rx="3.69" ry="3.44" fill="#6be227"/><circle cx="287.04" cy="348.68" r="1.60" fill="#6be227"/><circle cx="286.97" cy="349.40" r="1.48" fill="#6be227"/><circle cx="285.90" cy="350.74" r="1.44" fill="#6be227"/><circle cx="284.61" cy="351.44" r="1.23" fill="#6be227"/><circle cx="283.11" cy="351.34" r="1.28" fill="#6be227"/><circle cx="281.61" cy="350.20" r="1.54" fill="#6be227"/><circle cx="280.80" cy="349.29" r="1.28" fill="#6be227"/><circle cx="280.63" cy="348.19" r="1.25" fill="#6be227"/><circle cx="281.58" cy="346.75" r="1.63" fill="#6be227"/><circle cx="283.16" cy="345.54" r="1.38" fill="#6be227"/><circle cx="283.94" cy="345.63" r="1.59" fill="#6be227"/><circle cx="285.87" cy="346.04" r="1.44" fill="#6be227"/><circle cx="287.10" cy="347.48" r="1.37" fill="#6be227"/><ellipse cx="285.00" cy="352.00" rx="2.95" ry="2.62" fill="#6be227"/><circle cx="287.62" cy="351.95" r="1.08" fill="#6be227"/><circle cx="286.90" cy="353.40" r="1.19" fill="#6be227"/><circle cx="286.06" cy="354.11" r="1.00" fill="#6be227"/><circle cx="283.78" cy="353.85" r="1.20" fill="#6be227"/><circle cx="283.15" cy="353.55" r="1.11" fill="#6be227"/><circle cx="282.30" cy="352.38" r="0.96" fill="#6be227"/><circle cx="283.20" cy="350.43" r="1.13" fill="#6be227"/><circle cx="283.86" cy="349.90" r="0.98" fill="#6be227"/><circle cx="286.07" cy="350.07" r="1.19" fill="#6be227"/><circle cx="287.08" cy="350.46" r="0.94" fill="#6be227"/><circle cx="285.46" cy="346.84" r="0.59" fill="#3d9a17" opacity="0.5"/><circle cx="281.72" cy="347.67" r="0.53" fill="#3d9a17" opacity="0.5"/><circle cx="284.17" cy="346.87" r="0.36" fill="#3d9a17" opacity="0.5"/><circle cx="283.06" cy="351.71" r="0.50" fill="#3d9a17" opacity="0.5"/><circle cx="285.79" cy="352.84" r="0.39" fill="#3d9a17" opacity="0.5"/><circle cx="283.00" cy="347.50" r="0.60" fill="#3d9a17" opacity="0.55"/><circle cx="285.00" cy="349.50" r="0.60" fill="#3d9a17" opacity="0.55"/><circle cx="282.30" cy="350.00" r="0.50" fill="#3d9a17" opacity="0.55"/><path d="M286.28,359.0 V354.00 L287.80,352.48 L289.32,354.00 V359.0" fill="#fff" stroke="#0d0d0d" stroke-width="1.35" stroke-linejoin="miter"/><line x1="285.60" y1="354.30" x2="290.00" y2="354.30" stroke="#0d0d0d" stroke-width="1.1"/><path d="M286.59,353.65 L287.80,353.30 L289.01,353.65Z" fill="#9a9a9a"/><rect x="286.80" y="356.60" width="2.00" height="0.8" fill="#9a9a9a"/><path d="M291.28,359.0 V353.60 L293.80,350.57 L296.32,353.60 V359.0" fill="#fff" stroke="#0d0d0d" stroke-width="1.35" stroke-linejoin="miter"/><line x1="290.60" y1="353.90" x2="297.00" y2="353.90" stroke="#0d0d0d" stroke-width="1.1"/><path d="M291.76,353.25 L293.80,351.40 L295.84,353.25Z" fill="#9a9a9a"/><rect x="291.80" y="356.60" width="4.00" height="0.8" fill="#9a9a9a"/><line x1="302.50" y1="354.00" x2="302.50" y2="359.0" stroke="#555" stroke-width="0.9"/><line x1="305.00" y1="354.00" x2="305.00" y2="359.0" stroke="#888" stroke-width="0.9"/><ellipse cx="303.20" cy="348.60" rx="2.95" ry="2.95" fill="#6be227"/><circle cx="305.74" cy="348.28" r="1.16" fill="#6be227"/><circle cx="305.42" cy="349.54" r="1.32" fill="#6be227"/><circle cx="304.54" cy="350.80" r="1.14" fill="#6be227"/><circle cx="302.59" cy="351.12" r="1.12" fill="#6be227"/><circle cx="301.49" cy="350.28" r="1.34" fill="#6be227"/><circle cx="300.85" cy="349.60" r="1.16" fill="#6be227"/><circle cx="300.85" cy="347.63" r="1.17" fill="#6be227"/><circle cx="301.50" cy="346.56" r="1.05" fill="#6be227"/><circle cx="302.71" cy="346.34" r="1.43" fill="#6be227"/><circle cx="304.22" cy="346.14" r="1.04" fill="#6be227"/><circle cx="305.32" cy="347.66" r="1.42" fill="#6be227"/><ellipse cx="304.00" cy="351.60" rx="3.12" ry="2.62" fill="#6be227"/><circle cx="306.81" cy="351.77" r="1.09" fill="#6be227"/><circle cx="306.26" cy="352.86" r="1.13" fill="#6be227"/><circle cx="305.05" cy="353.53" r="1.22" fill="#6be227"/><circle cx="303.74" cy="353.92" r="0.97" fill="#6be227"/><circle cx="302.19" cy="353.20" r="1.18" fill="#6be227"/><circle cx="301.42" cy="352.47" r="1.10" fill="#6be227"/><circle cx="301.06" cy="351.30" r="0.93" fill="#6be227"/><circle cx="302.46" cy="349.93" r="1.27" fill="#6be227"/><circle cx="303.19" cy="349.56" r="1.18" fill="#6be227"/><circle cx="305.46" cy="349.84" r="1.23" fill="#6be227"/><circle cx="306.00" cy="350.26" r="1.28" fill="#6be227"/><circle cx="301.51" cy="346.89" r="0.46" fill="#3d9a17" opacity="0.5"/><circle cx="301.40" cy="349.59" r="0.54" fill="#3d9a17" opacity="0.5"/><circle cx="302.66" cy="353.16" r="0.60" fill="#3d9a17" opacity="0.5"/><circle cx="304.86" cy="350.12" r="0.37" fill="#3d9a17" opacity="0.5"/><circle cx="303.00" cy="350.50" r="0.60" fill="#3d9a17" opacity="0.55"/><circle cx="305.50" cy="351.00" r="0.50" fill="#3d9a17" opacity="0.55"/><path d="M298.28,359.0 V354.40 L299.40,352.98 L300.53,354.40 V359.0" fill="#fff" stroke="#0d0d0d" stroke-width="1.35" stroke-linejoin="miter"/><line x1="297.60" y1="354.70" x2="301.20" y2="354.70" stroke="#0d0d0d" stroke-width="1.1"/><path d="M298.25,354.05 L299.40,353.80 L300.56,354.05Z" fill="#9a9a9a"/><rect x="298.80" y="356.60" width="1.20" height="0.8" fill="#9a9a9a"/><rect x="307.0" y="346.2" width="8.8" height="13.0" fill="#c3cac9" stroke="#262626" stroke-width="1.2"/><rect x="319.4" y="310.2" width="16.2" height="49.0" fill="#c3cac9" stroke="#262626" stroke-width="1.2"/><rect x="330.5" y="343.2" width="13.2" height="16.0" fill="#c3cac9" stroke="#262626" stroke-width="1.2"/><rect x="345.7" y="317.1" width="12.7" height="42.1" fill="#c3cac9" stroke="#262626" stroke-width="1.2"/><rect x="365.5" y="274.5" width="22.9" height="84.7" fill="#c3cac9" stroke="#262626" stroke-width="1.2"/><rect x="359.0" y="310.2" width="19.5" height="49.0" fill="#c3cac9" stroke="#262626" stroke-width="1.2"/><rect x="388.3" y="310.2" width="10.0" height="49.0" fill="#c3cac9" stroke="#262626" stroke-width="1.2"/><rect x="399.2" y="330.2" width="12.3" height="29.0" fill="#c3cac9" stroke="#262626" stroke-width="1.2"/><rect x="416.1" y="349.5" width="7.4" height="9.7" fill="#c3cac9" stroke="#262626" stroke-width="1.2"/><path d="M429.07,359.0 V355.50 L433.45,353.57 L437.82,355.50 V359.0" fill="#fff" stroke="#0d0d0d" stroke-width="1.35" stroke-linejoin="miter"/><line x1="428.40" y1="355.80" x2="438.50" y2="355.80" stroke="#0d0d0d" stroke-width="1.1"/><path d="M432.02,355.15 L433.45,354.40 L434.88,355.15Z" fill="#9a9a9a"/><rect x="429.60" y="356.60" width="7.70" height="0.8" fill="#9a9a9a"/><path d="M441.48,359.0 V355.50 L446.40,353.57 L451.32,355.50 V359.0" fill="#fff" stroke="#0d0d0d" stroke-width="1.35" stroke-linejoin="miter"/><line x1="440.80" y1="355.80" x2="452.00" y2="355.80" stroke="#0d0d0d" stroke-width="1.1"/><path d="M444.97,355.15 L446.40,354.40 L447.83,355.15Z" fill="#9a9a9a"/><rect x="442.00" y="356.60" width="8.80" height="0.8" fill="#9a9a9a"/><line x1="441.40" y1="355.50" x2="441.40" y2="359.0" stroke="#555" stroke-width="0.9"/><ellipse cx="441.50" cy="350.60" rx="3.77" ry="3.36" fill="#6be227"/><circle cx="445.02" cy="350.48" r="1.20" fill="#6be227"/><circle cx="444.80" cy="351.52" r="1.25" fill="#6be227"/><circle cx="443.28" cy="353.14" r="1.26" fill="#6be227"/><circle cx="442.16" cy="353.31" r="1.48" fill="#6be227"/><circle cx="440.06" cy="353.20" r="1.36" fill="#6be227"/><circle cx="439.33" cy="352.79" r="1.37" fill="#6be227"/><circle cx="438.35" cy="351.39" r="1.46" fill="#6be227"/><circle cx="438.32" cy="350.05" r="1.51" fill="#6be227"/><circle cx="439.01" cy="348.89" r="1.55" fill="#6be227"/><circle cx="440.55" cy="347.66" r="1.17" fill="#6be227"/><circle cx="441.58" cy="347.54" r="1.15" fill="#6be227"/><circle cx="443.92" cy="348.40" r="1.20" fill="#6be227"/><circle cx="444.45" cy="349.60" r="1.58" fill="#6be227"/><ellipse cx="441.50" cy="353.80" rx="4.59" ry="1.97" fill="#6be227"/><circle cx="446.36" cy="353.45" r="0.71" fill="#6be227"/><circle cx="445.80" cy="354.47" r="0.93" fill="#6be227"/><circle cx="444.26" cy="355.14" r="0.85" fill="#6be227"/><circle cx="442.29" cy="355.48" r="0.77" fill="#6be227"/><circle cx="438.78" cy="355.15" r="0.85" fill="#6be227"/><circle cx="437.68" cy="354.90" r="0.74" fill="#6be227"/><circle cx="436.76" cy="354.08" r="0.87" fill="#6be227"/><circle cx="437.68" cy="352.73" r="0.77" fill="#6be227"/><circle cx="438.98" cy="352.35" r="0.78" fill="#6be227"/><circle cx="441.89" cy="352.03" r="0.70" fill="#6be227"/><circle cx="444.38" cy="352.52" r="0.89" fill="#6be227"/><circle cx="445.28" cy="352.72" r="0.77" fill="#6be227"/><circle cx="440.20" cy="349.63" r="0.57" fill="#3d9a17" opacity="0.5"/><circle cx="441.62" cy="349.08" r="0.57" fill="#3d9a17" opacity="0.5"/><circle cx="442.71" cy="350.76" r="0.36" fill="#3d9a17" opacity="0.5"/><circle cx="443.44" cy="353.42" r="0.50" fill="#3d9a17" opacity="0.5"/><circle cx="440.68" cy="355.38" r="0.46" fill="#3d9a17" opacity="0.5"/><circle cx="441.00" cy="350.00" r="0.60" fill="#3d9a17" opacity="0.55"/><circle cx="443.00" cy="352.00" r="0.60" fill="#3d9a17" opacity="0.55"/><circle cx="439.50" cy="352.50" r="0.50" fill="#3d9a17" opacity="0.55"/><path d="M455.68,359.0 V355.60 L460.45,353.98 L465.22,355.60 V359.0" fill="#fff" stroke="#0d0d0d" stroke-width="1.35" stroke-linejoin="miter"/><line x1="455.00" y1="355.90" x2="465.90" y2="355.90" stroke="#0d0d0d" stroke-width="1.1"/><path d="M459.19,355.25 L460.45,354.80 L461.71,355.25Z" fill="#9a9a9a"/><rect x="456.20" y="356.60" width="8.50" height="0.8" fill="#9a9a9a"/><line x1="471.80" y1="355.00" x2="471.80" y2="359.0" stroke="#8a8" stroke-width="0.9"/><line x1="476.00" y1="355.00" x2="476.00" y2="359.0" stroke="#555" stroke-width="0.9"/><ellipse cx="470.30" cy="350.20" rx="4.35" ry="5.25" fill="#6be227"/><circle cx="474.03" cy="350.56" r="1.74" fill="#6be227"/><circle cx="473.49" cy="352.41" r="1.88" fill="#6be227"/><circle cx="473.55" cy="352.91" r="1.59" fill="#6be227"/><circle cx="472.04" cy="354.73" r="1.51" fill="#6be227"/><circle cx="470.31" cy="355.00" r="1.77" fill="#6be227"/><circle cx="470.28" cy="354.74" r="2.06" fill="#6be227"/><circle cx="468.41" cy="354.25" r="1.85" fill="#6be227"/><circle cx="467.08" cy="352.48" r="1.82" fill="#6be227"/><circle cx="466.88" cy="352.43" r="1.62" fill="#6be227"/><circle cx="466.95" cy="351.03" r="2.10" fill="#6be227"/><circle cx="466.92" cy="348.98" r="2.00" fill="#6be227"/><circle cx="467.77" cy="346.46" r="1.60" fill="#6be227"/><circle cx="469.11" cy="345.67" r="1.79" fill="#6be227"/><circle cx="469.62" cy="345.33" r="1.62" fill="#6be227"/><circle cx="470.25" cy="345.16" r="1.51" fill="#6be227"/><circle cx="472.61" cy="346.57" r="1.86" fill="#6be227"/><circle cx="473.31" cy="346.95" r="1.52" fill="#6be227"/><circle cx="473.56" cy="348.52" r="2.00" fill="#6be227"/><ellipse cx="478.80" cy="349.60" rx="4.10" ry="4.92" fill="#6be227"/><circle cx="482.29" cy="350.34" r="1.62" fill="#6be227"/><circle cx="482.07" cy="351.51" r="1.56" fill="#6be227"/><circle cx="481.09" cy="353.29" r="1.44" fill="#6be227"/><circle cx="480.85" cy="353.49" r="1.46" fill="#6be227"/><circle cx="479.28" cy="354.01" r="1.72" fill="#6be227"/><circle cx="477.73" cy="354.05" r="1.49" fill="#6be227"/><circle cx="476.09" cy="352.79" r="1.45" fill="#6be227"/><circle cx="475.50" cy="351.49" r="1.54" fill="#6be227"/><circle cx="475.62" cy="350.33" r="1.97" fill="#6be227"/><circle cx="475.42" cy="349.04" r="1.77" fill="#6be227"/><circle cx="475.75" cy="346.88" r="1.42" fill="#6be227"/><circle cx="477.28" cy="345.86" r="1.96" fill="#6be227"/><circle cx="477.24" cy="345.48" r="1.58" fill="#6be227"/><circle cx="479.06" cy="345.33" r="1.91" fill="#6be227"/><circle cx="480.58" cy="345.45" r="1.42" fill="#6be227"/><circle cx="481.71" cy="346.65" r="1.42" fill="#6be227"/><circle cx="481.84" cy="347.41" r="1.68" fill="#6be227"/><ellipse cx="475.00" cy="346.40" rx="3.12" ry="2.87" fill="#6be227"/><circle cx="477.60" cy="346.85" r="1.28" fill="#6be227"/><circle cx="477.00" cy="348.00" r="1.23" fill="#6be227"/><circle cx="475.97" cy="348.62" r="1.25" fill="#6be227"/><circle cx="474.25" cy="348.70" r="1.23" fill="#6be227"/><circle cx="472.96" cy="348.12" r="1.10" fill="#6be227"/><circle cx="472.49" cy="347.32" r="1.21" fill="#6be227"/><circle cx="472.30" cy="345.91" r="1.16" fill="#6be227"/><circle cx="473.24" cy="344.39" r="1.05" fill="#6be227"/><circle cx="474.51" cy="343.95" r="1.13" fill="#6be227"/><circle cx="476.20" cy="344.13" r="1.10" fill="#6be227"/><circle cx="477.35" cy="345.08" r="1.14" fill="#6be227"/><ellipse cx="468.50" cy="353.50" rx="2.87" ry="2.71" fill="#6be227"/><circle cx="470.86" cy="353.91" r="1.22" fill="#6be227"/><circle cx="470.52" cy="354.78" r="1.16" fill="#6be227"/><circle cx="469.24" cy="355.57" r="1.24" fill="#6be227"/><circle cx="467.92" cy="355.60" r="1.26" fill="#6be227"/><circle cx="466.83" cy="355.02" r="1.27" fill="#6be227"/><circle cx="466.01" cy="353.88" r="1.08" fill="#6be227"/><circle cx="466.34" cy="352.11" r="0.97" fill="#6be227"/><circle cx="467.45" cy="351.50" r="1.20" fill="#6be227"/><circle cx="469.01" cy="351.35" r="1.22" fill="#6be227"/><circle cx="470.16" cy="351.92" r="1.23" fill="#6be227"/><circle cx="469.26" cy="351.57" r="0.59" fill="#3d9a17" opacity="0.5"/><circle cx="472.48" cy="351.18" r="0.51" fill="#3d9a17" opacity="0.5"/><circle cx="471.69" cy="346.65" r="0.58" fill="#3d9a17" opacity="0.5"/><circle cx="469.66" cy="347.04" r="0.51" fill="#3d9a17" opacity="0.5"/><circle cx="468.25" cy="350.02" r="0.41" fill="#3d9a17" opacity="0.5"/><circle cx="470.02" cy="346.48" r="0.60" fill="#3d9a17" opacity="0.5"/><circle cx="481.99" cy="351.65" r="0.49" fill="#3d9a17" opacity="0.5"/><circle cx="478.19" cy="350.57" r="0.52" fill="#3d9a17" opacity="0.5"/><circle cx="480.30" cy="349.61" r="0.37" fill="#3d9a17" opacity="0.5"/><circle cx="475.99" cy="347.16" r="0.57" fill="#3d9a17" opacity="0.5"/><circle cx="478.38" cy="347.54" r="0.43" fill="#3d9a17" opacity="0.5"/><circle cx="477.83" cy="347.15" r="0.46" fill="#3d9a17" opacity="0.5"/><circle cx="473.58" cy="344.31" r="0.44" fill="#3d9a17" opacity="0.5"/><circle cx="472.84" cy="344.81" r="0.39" fill="#3d9a17" opacity="0.5"/><circle cx="467.34" cy="353.92" r="0.41" fill="#3d9a17" opacity="0.5"/><circle cx="469.55" cy="354.35" r="0.48" fill="#3d9a17" opacity="0.5"/><circle cx="477.00" cy="348.00" r="0.70" fill="#3d9a17" opacity="0.55"/><circle cx="479.00" cy="351.00" r="0.70" fill="#3d9a17" opacity="0.55"/><circle cx="476.50" cy="353.00" r="0.60" fill="#3d9a17" opacity="0.55"/><circle cx="481.00" cy="349.50" r="0.60" fill="#3d9a17" opacity="0.55"/><circle cx="478.50" cy="354.50" r="0.60" fill="#3d9a17" opacity="0.55"/><line x1="492.80" y1="355.00" x2="492.80" y2="359.0" stroke="#555" stroke-width="0.9"/><line x1="496.30" y1="355.00" x2="496.30" y2="359.0" stroke="#8a8" stroke-width="0.9"/><ellipse cx="492.00" cy="349.00" rx="3.53" ry="4.43" fill="#6be227"/><circle cx="495.05" cy="349.69" r="1.34" fill="#6be227"/><circle cx="494.58" cy="351.20" r="1.39" fill="#6be227"/><circle cx="493.83" cy="351.88" r="1.72" fill="#6be227"/><circle cx="492.91" cy="352.65" r="1.70" fill="#6be227"/><circle cx="492.13" cy="352.95" r="1.61" fill="#6be227"/><circle cx="490.23" cy="352.60" r="1.21" fill="#6be227"/><circle cx="489.54" cy="351.41" r="1.41" fill="#6be227"/><circle cx="488.89" cy="349.83" r="1.25" fill="#6be227"/><circle cx="488.97" cy="348.25" r="1.36" fill="#6be227"/><circle cx="489.38" cy="347.22" r="1.53" fill="#6be227"/><circle cx="490.00" cy="345.76" r="1.31" fill="#6be227"/><circle cx="491.83" cy="345.15" r="1.72" fill="#6be227"/><circle cx="493.27" cy="345.39" r="1.54" fill="#6be227"/><circle cx="493.56" cy="345.74" r="1.65" fill="#6be227"/><circle cx="494.50" cy="346.65" r="1.41" fill="#6be227"/><ellipse cx="497.40" cy="350.80" rx="3.36" ry="3.94" fill="#6be227"/><circle cx="500.07" cy="351.37" r="1.54" fill="#6be227"/><circle cx="499.80" cy="352.71" r="1.39" fill="#6be227"/><circle cx="498.71" cy="353.85" r="1.49" fill="#6be227"/><circle cx="498.38" cy="353.93" r="1.60" fill="#6be227"/><circle cx="497.24" cy="354.26" r="1.48" fill="#6be227"/><circle cx="495.13" cy="353.26" r="1.19" fill="#6be227"/><circle cx="495.06" cy="352.69" r="1.47" fill="#6be227"/><circle cx="494.43" cy="351.16" r="1.24" fill="#6be227"/><circle cx="494.87" cy="349.30" r="1.44" fill="#6be227"/><circle cx="495.54" cy="348.38" r="1.59" fill="#6be227"/><circle cx="497.30" cy="347.17" r="1.29" fill="#6be227"/><circle cx="497.82" cy="347.42" r="1.54" fill="#6be227"/><circle cx="499.13" cy="348.09" r="1.48" fill="#6be227"/><circle cx="500.12" cy="349.91" r="1.43" fill="#6be227"/><ellipse cx="494.00" cy="353.50" rx="2.87" ry="2.05" fill="#6be227"/><circle cx="496.76" cy="353.66" r="0.81" fill="#6be227"/><circle cx="495.88" cy="354.83" r="0.78" fill="#6be227"/><circle cx="494.78" cy="355.28" r="0.73" fill="#6be227"/><circle cx="492.21" cy="354.86" r="0.81" fill="#6be227"/><circle cx="491.50" cy="354.41" r="0.70" fill="#6be227"/><circle cx="491.28" cy="353.16" r="0.81" fill="#6be227"/><circle cx="492.49" cy="352.15" r="0.95" fill="#6be227"/><circle cx="493.93" cy="351.70" r="0.78" fill="#6be227"/><circle cx="495.83" cy="352.30" r="0.94" fill="#6be227"/><circle cx="491.55" cy="352.41" r="0.60" fill="#3d9a17" opacity="0.5"/><circle cx="489.91" cy="351.75" r="0.59" fill="#3d9a17" opacity="0.5"/><circle cx="493.43" cy="348.68" r="0.46" fill="#3d9a17" opacity="0.5"/><circle cx="491.04" cy="348.10" r="0.42" fill="#3d9a17" opacity="0.5"/><circle cx="498.73" cy="350.07" r="0.55" fill="#3d9a17" opacity="0.5"/><circle cx="498.65" cy="351.83" r="0.51" fill="#3d9a17" opacity="0.5"/><circle cx="498.42" cy="351.90" r="0.42" fill="#3d9a17" opacity="0.5"/><circle cx="491.81" cy="353.79" r="0.49" fill="#3d9a17" opacity="0.5"/><circle cx="494.44" cy="352.97" r="0.54" fill="#3d9a17" opacity="0.5"/><circle cx="491.00" cy="348.50" r="0.60" fill="#3d9a17" opacity="0.55"/><circle cx="494.00" cy="350.00" r="0.70" fill="#3d9a17" opacity="0.55"/><circle cx="496.00" cy="352.50" r="0.60" fill="#3d9a17" opacity="0.55"/><circle cx="498.50" cy="350.00" r="0.60" fill="#3d9a17" opacity="0.55"/><path d="M502.98,359.0 V354.10 L505.65,351.78 L508.32,354.10 V359.0" fill="#fff" stroke="#0d0d0d" stroke-width="1.35" stroke-linejoin="miter"/><line x1="502.30" y1="354.40" x2="509.00" y2="354.40" stroke="#0d0d0d" stroke-width="1.1"/><path d="M504.00,353.75 L505.65,352.60 L507.30,353.75Z" fill="#9a9a9a"/><rect x="503.50" y="356.60" width="4.30" height="0.8" fill="#9a9a9a"/><path d="M514.17,359.0 V355.40 L518.55,353.88 L522.93,355.40 V359.0" fill="#fff" stroke="#0d0d0d" stroke-width="1.35" stroke-linejoin="miter"/><line x1="513.50" y1="355.70" x2="523.60" y2="355.70" stroke="#0d0d0d" stroke-width="1.1"/><path d="M517.34,355.05 L518.55,354.70 L519.76,355.05Z" fill="#9a9a9a"/><rect x="514.70" y="356.60" width="7.70" height="0.8" fill="#9a9a9a"/><line x1="527.40" y1="354.50" x2="527.40" y2="359.0" stroke="#555" stroke-width="0.9"/><ellipse cx="527.10" cy="351.80" rx="3.12" ry="3.20" fill="#6be227"/><circle cx="529.78" cy="351.35" r="1.20" fill="#6be227"/><circle cx="529.26" cy="353.29" r="1.34" fill="#6be227"/><circle cx="528.54" cy="354.23" r="1.16" fill="#6be227"/><circle cx="527.38" cy="354.65" r="1.15" fill="#6be227"/><circle cx="525.47" cy="354.15" r="1.12" fill="#6be227"/><circle cx="524.62" cy="353.19" r="1.09" fill="#6be227"/><circle cx="524.44" cy="351.37" r="1.23" fill="#6be227"/><circle cx="524.53" cy="350.61" r="1.09" fill="#6be227"/><circle cx="525.58" cy="349.68" r="1.40" fill="#6be227"/><circle cx="526.79" cy="348.94" r="1.13" fill="#6be227"/><circle cx="528.44" cy="349.60" r="1.43" fill="#6be227"/><circle cx="529.60" cy="350.79" r="1.24" fill="#6be227"/><circle cx="527.94" cy="350.79" r="0.40" fill="#3d9a17" opacity="0.5"/><circle cx="526.57" cy="353.48" r="0.44" fill="#3d9a17" opacity="0.5"/><circle cx="527.50" cy="352.00" r="0.50" fill="#3d9a17" opacity="0.55"/><path d="M532.57,359.0 V355.40 L537.00,353.88 L541.43,355.40 V359.0" fill="#fff" stroke="#0d0d0d" stroke-width="1.35" stroke-linejoin="miter"/><line x1="531.90" y1="355.70" x2="542.10" y2="355.70" stroke="#0d0d0d" stroke-width="1.1"/><path d="M535.79,355.05 L537.00,354.70 L538.21,355.05Z" fill="#9a9a9a"/><rect x="533.10" y="356.60" width="7.80" height="0.8" fill="#9a9a9a"/><path d="M554.70,355.10 C555.90,351.30 561.30,351.30 562.50,355.10Z" fill="#a2a2a2"/><rect x="554.10" y="354.70" width="9.00" height="4.60" fill="#0d0d0d"/><rect x="564.30" y="349.00" width="5.20" height="10.30" rx="0.6" fill="#0d0d0d"/><rect x="564.70" y="349.20" width="4.40" height="0.9" fill="#555"/><line x1="85" y1="359.25" x2="574.8" y2="359.25" stroke="#050505" stroke-width="1.15"/>
<g class="lab"><text x="83.75" y="378.3" textLength="20.2" lengthAdjust="spacingAndGlyphs">Rural</text><text x="119.3" y="378.6" textLength="38.5" lengthAdjust="spacingAndGlyphs">Suburban</text><text x="175.7" y="378.6" textLength="20.5" lengthAdjust="spacingAndGlyphs">Pond</text><text x="206.7" y="379.4" textLength="44.9" lengthAdjust="spacingAndGlyphs">Warehouse</text><text x="206.7" y="393.2" textLength="48.4" lengthAdjust="spacingAndGlyphs">or Industrial</text><text x="284.7" y="379.4" textLength="24.5" lengthAdjust="spacingAndGlyphs">Urban</text><text x="271.9" y="393.2" textLength="44.8" lengthAdjust="spacingAndGlyphs">Residential</text><text x="350.5" y="379.4" textLength="44.8" lengthAdjust="spacingAndGlyphs">Downtown</text><text x="423.7" y="379.4" textLength="24.0" lengthAdjust="spacingAndGlyphs">Urban</text><text x="413.9" y="393.0" textLength="44.8" lengthAdjust="spacingAndGlyphs">Residential</text><text x="475.2" y="379.0" textLength="17.0" lengthAdjust="spacingAndGlyphs">Park</text><text x="503.6" y="379.0" textLength="38.4" lengthAdjust="spacingAndGlyphs">Suburban</text><text x="553.9" y="379.0" textLength="20.8" lengthAdjust="spacingAndGlyphs">Rural</text></g>
<!-- border -->
<rect x="2.8" y="2.8" width="1.1" height="393" fill="#fffae6"/>
<rect x="2.8" y="2.8" width="25.2" height="1.1" fill="#fffae6"/>
<rect x="150" y="2.8" width="446" height="1.1" fill="#fffae6"/>
<rect x="596" y="2.8" width="1.2" height="393" fill="#fffae6"/>
<rect x="0" y="0" width="600" height="2.1" fill="#d44a22"/>
<rect x="0" y="2.1" width="597.5" height="0.75" fill="#b34a2a"/>
<rect x="0" y="0" width="2.1" height="399" fill="#d44a22"/>
<rect x="2.1" y="2.1" width="0.75" height="394" fill="#b34a2a"/>
<rect x="598" y="0" width="2" height="399" fill="#d04a22"/>
<rect x="597.2" y="2.1" width="0.8" height="394" fill="#b54a28"/>
<rect x="0" y="395.8" width="600" height="3.2" fill="#c24727"/>
<rect x="0" y="395.8" width="600" height="0.6" fill="#b44a2c"/>
<rect x="0" y="399" width="600" height="1" fill="#fcefd9"/>
</svg>
</body></html>
